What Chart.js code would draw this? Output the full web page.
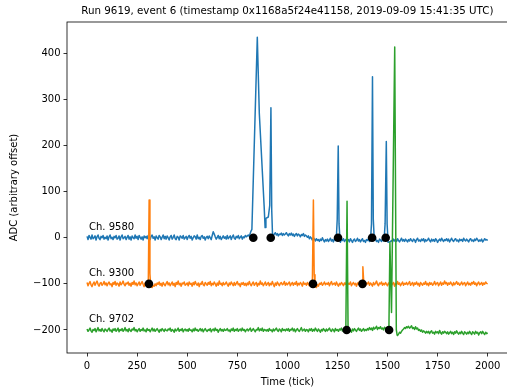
<!DOCTYPE html>
<html>
<head>
<meta charset="utf-8">
<title>Event waveforms</title>
<script src="https://cdn.jsdelivr.net/npm/chart.js@4.4.0/dist/chart.umd.min.js"></script>
<style>
  html, body { margin: 0; padding: 0; background: #fff; overflow: hidden; }
  #wrap { width: 512px; height: 388px; }
</style>
</head>
<body>
<div id="wrap"><canvas id="waveforms" width="512" height="388"></canvas></div>
<script>
"use strict";

const titleText = 'Run 9619, event 6 (timestamp 0x1168a5f24e41158, 2019-09-09 15:41:35 UTC)';
const channels = ['Ch. 9580', 'Ch. 9300', 'Ch. 9702'];
const offsets = [0, -100, -200];
const colors = ['#1f77b4', '#ff7f0e', '#2ca02c'];
const xTicks = [0, 250, 500, 750, 1000, 1250, 1500, 1750, 2000];
const yTicks = [-200, -100, 0, 100, 200, 300, 400];

// baseline samples, one every 5 ticks from 0 to 2000 (one row = 100 ticks)
const sampleStep = 5;

const blueBase = [
    3, -4, 5, 1, -3, 6, -2, 0, 4, -5, 2, 6, -1, -4, 3, 0, 5, -3, 1, -2,
    4, -5, 2, 6, -2, 1, -4, 3, 0, 5, -3, -1, 4, -5, 2, 6, -2, 0, 3, -4,
    1, 5, -3, 2, -5, 4, 0, -2, 6, -1, 3, -4, 5, 1, -3, 2, -5, 4, 0, 3,
    -2, 5, 1, -4, 3, 6, -1, 2, -5, 4, 0, -3, 5, 2, -4, 1, 6, -2, 3, -3,
    4, 0, -5, 2, 5, -3, 1, 6, -2, -4, 3, 1, -5, 4, 2, -1, 5, -3, 0, 3,
    -4, 2, 5, -1, 3, -5, 0, 4, 2, -3, 6, -2, 1, -4, 3, 5, -1, 2, -5, 1,
    3, -2, 4, 0, -4, 5, 13, 8, 2, -3, 1, 5, -2, 3, -4, 0, 4, -1, 2, -3,
    5, -2, 1, 4, -4, 2, 6, -1, -3, 3, 0, 5, -2, 1, 4, -3, 2, 0, 5, 2,
    4, 6, 3, 8, 5, 7, 9, 6, 4, 8, 10, 5, 7, 9, 6, 8, 11, 7, 5, 9,
    6, 8, 4, 9, 7, 10, 5, 8, 11, 6, 9, 4, 8, 7, 10, 5, 9, 6, 8, 11,
    7, 4, 9, 6, 10, 5, 8, 3, 7, 9, 4, 8, 6, 2, 7, 5, 9, 3, 6, 4,
    1, 4, -2, 2, -1, -5, 0, -3, -7, -2, -6, -4, -8, -3, -6, 0, -5, -9, -4, -7,
    -3, -8, -5, -1, -7, -4, -9, -2, -6, -8, -3, -7, -5, -10, -4, -6, -2, -8, -5, -3,
    -7, -4, -9, -2, -6, -10, -5, -3, -8, -6, -1, -7, -4, -9, -5, -2, -8, -6, -10, -4,
    -6, -2, -8, -5, -9, -3, -7, -4, -1, -8, -6, -10, -3, -5, -8, -2, -7, -4, -9, -6,
    -5, -10, -12, -8, -6, -9, -3, -7, -4, -8, -2, -6, -9, -5, -1, -7, -4, -8, -3, -6,
    -9, -4, -7, -2, -6, -8, -3, -5, -10, -4, -1, -7, -5, -8, -3, -6, -2, -9, -4, -7,
    -5, -1, -6, -9, -3, -7, -4, -8, -2, -5, -10, -6, -3, -7, -1, -5, -8, -4, -6, -2,
    -7, -3, -9, -5, -1, -6, -8, -4, -2, -7, -5, -9, -3, -6, -4, -8, -1, -5, -7, -3,
    -6, -9, -4, -2, -7, -5, -8, -3, -6, -1, -4, -8, -5, -7, -3, -9, -6, -2, -5, -4,
    -6
];

const orangeBase = [
    -97, -104, -99, -95, -102, -106, -100, -96, -103, -98, -94, -101, -105, -99, -97, -103, -100, -95, -102, -98,
    -104, -99, -96, -102, -100, -106, -97, -101, -95, -103, -98, -100, -105, -96, -102, -99, -94, -101, -104, -98,
    -100, -96, -103, -99, -105, -97, -101, -94, -102, -98, -104, -100, -96, -103, -99, -95, -101, -106, -98, -102,
    -97, -103, -99, -100, -106, -108, -103, -105, -100, -104, -98, -101, -96, -103, -99, -105, -97, -101, -104, -99,
    -95, -102, -98, -104, -100, -96, -103, -99, -106, -97, -101, -94, -102, -99, -105, -98, -100, -96, -103, -101,
    -98, -104, -96, -101, -99, -105, -97, -102, -95, -100, -103, -98, -106, -99, -101, -95, -102, -104, -97, -100,
    -103, -97, -101, -95, -104, -99, -102, -96, -100, -105, -98, -103, -94, -101, -99, -104, -97, -102, -100, -96,
    -101, -105, -98, -102, -96, -100, -104, -97, -103, -99, -95, -102, -100, -106, -98, -101, -97, -103, -99, -104,
    -98, -102, -95, -101, -104, -99, -96, -103, -100, -97, -105, -99, -102, -94, -101, -98, -104, -100, -96, -103,
    -100, -97, -104, -99, -102, -95, -101, -106, -98, -103, -96, -100, -104, -99, -97, -102, -100, -95, -103, -98,
    -102, -99, -96, -104, -100, -97, -103, -98, -101, -95, -104, -99, -102, -97, -100, -105, -96, -101, -99, -103,
    -97, -101, -104, -98, -100, -99, -103, -96, -106, -108, -102, -105, -99, -101, -97, -103, -100, -96, -102, -99,
    -101, -97, -104, -99, -95, -102, -100, -98, -103, -96, -101, -105, -99, -102, -97, -100, -104, -98, -101, -96,
    -103, -99, -101, -96, -104, -100, -97, -102, -99, -105, -98, -101, -95, -103, -100, -97, -102, -99, -104, -98,
    -100, -96, -103, -98, -101, -105, -97, -102, -99, -94, -101, -104, -98, -100, -96, -103, -99, -102, -97, -101,
    -104, -98, -101, -96, -103, -100, -97, -105, -99, -102, -95, -101, -98, -104, -100, -96, -103, -99, -101, -97,
    -102, -99, -95, -103, -100, -97, -104, -98, -101, -96, -102, -99, -105, -97, -100, -103, -98, -101, -95, -102,
    -99, -104, -97, -101, -98, -103, -100, -95, -102, -99, -97, -104, -100, -96, -103, -98, -101, -94, -100, -97,
    -103, -98, -101, -96, -100, -104, -97, -102, -99, -95, -101, -98, -103, -100, -96, -102, -99, -97, -104, -100,
    -96, -102, -99, -103, -97, -100, -95, -101, -98, -104, -99, -96, -102, -100, -97, -103, -98, -101, -96, -99,
    -100
];

const greenBase = [
    -198, -203, -200, -196, -202, -205, -199, -201, -197, -204, -200, -195, -202, -199, -203, -197, -201, -204, -198, -200,
    -203, -199, -196, -202, -200, -205, -198, -201, -197, -203, -200, -196, -204, -199, -201, -197, -203, -200, -195, -202,
    -199, -204, -197, -201, -203, -198, -200, -195, -202, -199, -204, -200, -197, -203, -199, -201, -196, -202, -200, -204,
    -197, -201, -199, -204, -200, -196, -202, -198, -203, -200, -197, -201, -205, -199, -202, -197, -200, -203, -198, -201,
    -202, -198, -200, -196, -203, -199, -201, -205, -198, -202, -200, -196, -203, -199, -201, -197, -204, -200, -198, -202,
    -199, -203, -197, -201, -200, -204, -198, -202, -196, -201, -199, -203, -200, -197, -202, -198, -204, -200, -197, -201,
    -203, -199, -201, -197, -204, -200, -198, -202, -196, -201, -199, -205, -200, -197, -202, -199, -203, -198, -201, -200,
    -197, -202, -200, -204, -198, -201, -196, -203, -199, -201, -197, -203, -200, -198, -202, -196, -201, -199, -204, -200,
    -198, -202, -199, -196, -203, -200, -197, -201, -204, -199, -200, -195, -202, -198, -201, -196, -203, -199, -200, -202,
    -199, -203, -197, -201, -200, -204, -198, -202, -199, -196, -201, -203, -198, -200, -204, -197, -201, -199, -202, -198,
    -201, -197, -203, -199, -200, -196, -202, -198, -204, -200, -197, -201, -203, -199, -195, -202, -200, -198, -203, -199,
    -200, -204, -198, -201, -197, -203, -199, -202, -196, -200, -203, -198, -201, -205, -199, -202, -197, -200, -203, -198,
    -202, -199, -196, -201, -203, -198, -200, -204, -197, -201, -199, -203, -198, -200, -196, -202, -199, -203, -201, -197,
    -200, -203, -199, -201, -205, -198, -202, -197, -200, -203, -199, -196, -201, -198, -203, -200, -197, -202, -199, -201,
    -197, -200, -195, -199, -196, -201, -194, -198, -196, -192, -199, -195, -197, -193, -198, -196, -200, -194, -197, -195,
    -200, -197, -199, -196, -201, -198, -195, -202, -199, -197, -212, -209, -205, -207, -203, -200, -198, -195, -197, -193,
    -195, -192, -196, -194, -191, -197, -195, -199, -193, -198, -196, -201, -199, -203, -200, -205, -202, -204, -207, -203,
    -206, -203, -208, -204, -202, -207, -205, -209, -203, -206, -204, -208, -201, -206, -209, -204, -207, -203, -205, -208,
    -204, -209, -206, -203, -208, -205, -210, -204, -207, -202, -206, -209, -205, -208, -203, -207, -210, -204, -206, -209,
    -205, -208, -203, -207, -210, -204, -206, -209, -203, -207, -205, -211, -206, -204, -208, -203, -207, -210, -205, -208,
    -206
];

// pulses as [tick, adc] pairs
const bluePulses = [
    [[812, 3], [818, 14], [823, 18], [850, 435], [860, 270], [884, 70], [889, 22], [893, 42],
     [905, 45], [912, 70], [918, 282], [922, 60], [926, 6]],
    [[1244, -5], [1249, 40], [1254, 199], [1258, 30], [1263, -6]],
    [[1415, -6], [1420, 30], [1425, 349], [1429, 40], [1434, -5]],
    [[1483, -4], [1488, 30], [1494, 209], [1498, 30], [1503, -10], [1510, -9]]
];
const orangePulses = [
    [[301, -99], [306, -92], [310, 82], [314, -78], [318, -105]],
    [[1121, -100], [1125, -93], [1130, 82], [1134, -80], [1138, -101]],
    [[1369, -101], [1373, -96], [1377, -63], [1381, -94], [1385, -100]]
];
const greenPulses = [
    [[1287, -201], [1292, -195], [1298, 79], [1303, -195], [1308, -204]],
    [[1501, -200], [1507, -197], [1512, -10], [1520, -162], [1536, 414], [1544, -200], [1548, -211]]
];

// hit start ticks per channel
const blueHits = [830, 917, 1253, 1423, 1491];
const orangeHits = [309, 1128, 1375];
const greenHits = [1296, 1508];

function buildTrace(base, pulses) {
    let pts = base.map((v, i) => ({ x: i * sampleStep, y: v }));
    pulses.forEach(p => {
        const lo = p[0][0], hi = p[p.length - 1][0];
        pts = pts.filter(pt => pt.x < lo || pt.x > hi);
        p.forEach(([x, y]) => pts.push({ x, y }));
    });
    return pts.sort((a, b) => a.x - b.x);
}

const traces = [
    buildTrace(blueBase, bluePulses),
    buildTrace(orangeBase, orangePulses),
    buildTrace(greenBase, greenPulses)
];

const hits = [];
[blueHits, orangeHits, greenHits].forEach((list, i) => {
    list.forEach(t => hits.push({ x: t, y: offsets[i] }));
});

const font = 'DejaVu Sans';

const framePlugin = {
    id: 'frame',
    afterDraw(chart) {
        const { ctx, chartArea: a, scales } = chart;
        ctx.save();
        ctx.strokeStyle = '#000';
        ctx.lineWidth = 0.8;
        ctx.strokeRect(a.left, a.top, a.right - a.left, a.bottom - a.top);

        ctx.fillStyle = '#000';
        ctx.font = '10.3px "' + font + '"';
        ctx.textAlign = 'center';
        ctx.textBaseline = 'middle';
        ctx.fillText(titleText, (a.left + a.right) / 2, 11.5);

        ctx.font = '10px "' + font + '"';
        ctx.textAlign = 'left';
        ctx.textBaseline = 'alphabetic';
        channels.forEach((name, i) => {
            ctx.fillText(name, scales.x.getPixelForValue(10), scales.y.getPixelForValue(offsets[i] + 17));
        });
        ctx.restore();
    }
};

const minus = v => (v < 0 ? '\u2212' + Math.abs(v) : String(v));

new Chart(document.getElementById('waveforms'), {
    type: 'line',
    data: {
        datasets: [
            {
                type: 'scatter',
                data: hits,
                backgroundColor: '#000',
                borderWidth: 0,
                pointRadius: 4.3,
                order: 0
            },
            ...traces.map((pts, i) => ({
                label: channels[i],
                data: pts,
                borderColor: colors[i],
                borderWidth: 1.5,
                borderJoinStyle: 'round',
                pointRadius: 0,
                tension: 0,
                order: 3 - i
            }))
        ]
    },
    options: {
        responsive: false,
        animation: false,
        events: [],
        layout: { padding: { top: 22, right: 3, bottom: 0, left: 0 } },
        plugins: {
            legend: { display: false },
            tooltip: { enabled: false }
        },
        scales: {
            x: {
                type: 'linear',
                min: -100,
                max: 2100,
                afterBuildTicks: s => { s.ticks = xTicks.map(v => ({ value: v })); },
                afterFit: s => { s.height = 35; },
                grid: { drawOnChartArea: false, drawTicks: true, tickLength: 3.5, color: '#000', lineWidth: 0.8 },
                border: { display: false },
                ticks: {
                    padding: 3.5,
                    color: '#000',
                    maxRotation: 0,
                    font: { family: font, size: 10 },
                    callback: v => String(v)
                },
                title: {
                    display: true,
                    text: 'Time (tick)',
                    color: '#000',
                    padding: { top: 0, bottom: 0 },
                    font: { family: font, size: 10 }
                }
            },
            y: {
                type: 'linear',
                min: -250,
                max: 468,
                afterBuildTicks: s => { s.ticks = yTicks.map(v => ({ value: v })); },
                afterFit: s => { s.width = 67; },
                grid: { drawOnChartArea: false, drawTicks: true, tickLength: 3.5, color: '#000', lineWidth: 0.8 },
                border: { display: false },
                ticks: {
                    padding: 3,
                    color: '#000',
                    font: { family: font, size: 10 },
                    callback: v => minus(v)
                },
                title: {
                    display: true,
                    text: 'ADC (arbitrary offset)',
                    color: '#000',
                    padding: { top: 8, bottom: 0 },
                    font: { family: font, size: 10 }
                }
            }
        }
    },
    plugins: [framePlugin]
});
</script>
</body>
</html>
